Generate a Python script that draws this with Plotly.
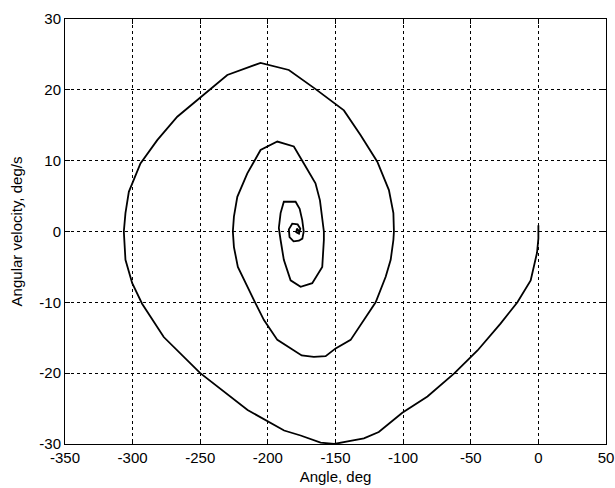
import plotly.graph_objects as go

# Phase trajectory (angle in deg, angular velocity in deg/s)
angle = [0, 0, -1, -3, -5.7, -15.5, -28, -45, -62, -82, -100.6, -118, -129, -140, -151, -161,
         -175.8, -188, -215, -250, -277, -293, -300.3, -305.3, -306.5, -306.5, -305.3, -302.8,
         -294.2, -281.8, -267, -249.8, -230, -205.4, -184.5, -164.7, -143.8, -131.4, -119.1,
         -110.5, -107.2, -106.8, -107.2, -109.2, -112.9, -120.3, -138.8, -149.9, -157.3, -166,
         -175, -193, -202.9, -210.3, -215.2, -222.2, -225.1, -225.9, -225.1, -222.6, -215.2,
         -205.4, -193, -180.8, -173.4, -164.8, -161.5, -159.8, -158.6, -158.6, -159.8, -167.2,
         -175.8, -183.2, -188.2, -190.6, -191.9, -190.6, -188.2, -179.5, -176.5, -174.6, -173.5,
         -174.5, -177, -181, -184, -184.5, -182, -178, -176, -177, -179, -178.5, -177.5, -178]
velocity = [0.9, -1, -3, -4.5, -6.9, -10, -13, -16.8, -20, -23.3, -25.6, -28.3, -29.2, -29.6, -30, -29.8,
            -28.8, -28.1, -25.2, -20, -14.9, -10.2, -7.3, -4, -1.2, 0, 2.6, 5.6,
            9.6, 12.9, 16.2, 19, 22.1, 23.8, 22.8, 20.1, 17.1, 13.6, 9.85,
            5.85, 2.6, 0, -1.2, -4, -6.4, -10, -15.3, -16.5, -17.6, -17.7,
            -17.5, -15.3, -12.5, -9.7, -7.8, -5, -2.2, 0, 2.1, 4.9, 8.2,
            11.5, 12.7, 12, 9.6, 6.8, 4.4, 2.1, 0, -1.2, -5, -7.3,
            -7.8, -6.9, -4, -1.2, 0.5, 2.6, 4.2, 4.2, 3.2, 1.6, 0,
            -1, -1.3, -1.4, -0.8, 0.3, 1.1, 1.0, 0.4, -0.3, -0.1, 0.4, 0.2, 0.0]

x_ticks = [-350, -300, -250, -200, -150, -100, -50, 0, 50]
y_ticks = [-30, -20, -10, 0, 10, 20, 30]

fig = go.Figure()
fig.add_trace(go.Scatter(x=angle, y=velocity, mode="lines",
                         line=dict(color="black", width=1.8), showlegend=False,
                         cliponaxis=True, hoverinfo="skip"))

font = dict(family="Liberation Sans, Arial, sans-serif", size=15, color="black")
axis_common = dict(
    showgrid=True, gridcolor="black", gridwidth=1, griddash="3px,3px",
    zeroline=False, showline=True, linecolor="black", linewidth=1, mirror="ticks",
    ticks="inside", ticklen=5, tickcolor="black", tickfont=font, automargin=False,
)
fig.update_layout(
    width=615, height=488,
    margin=dict(l=65, r=9, t=19, b=44),
    paper_bgcolor="white", plot_bgcolor="white",
    font=font,
    xaxis=dict(range=[-350, 50], tickvals=x_ticks, ticktext=[str(v) for v in x_ticks],
               title=dict(text="Angle, deg", font=font, standoff=6), **axis_common),
    yaxis=dict(range=[-30, 30], tickvals=y_ticks, ticktext=[str(v) for v in y_ticks],
               title=dict(text="Angular velocity, deg/s", font=font, standoff=13), **axis_common),
)
fig.write_html("out.html", config={"displayModeBar": False},
               post_script="document.body.style.margin='0';document.body.style.overflow='hidden';")
